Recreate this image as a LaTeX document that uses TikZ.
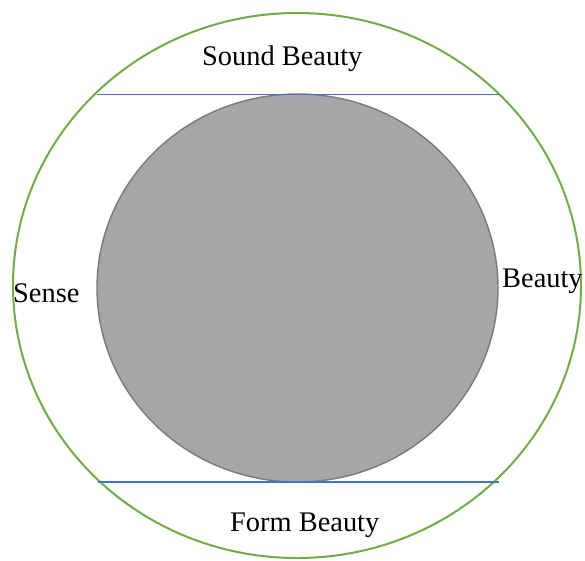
\documentclass[tikz,border=0pt]{standalone}
\usepackage{fontspec}
\setmainfont{Liberation Serif}
\definecolor{outergreen}{HTML}{70AD47}
\definecolor{lineblue}{HTML}{4472C4}
\definecolor{fillgray}{HTML}{A6A6A6}
\definecolor{edgegray}{HTML}{7A7A7A}
\begin{document}
\begin{tikzpicture}[x=1pt,y=-1pt,
  lbl/.style={inner sep=0pt, anchor=base west, font=\fontsize{28.4}{30}\selectfont},
  sepline/.style={draw=lineblue, line width=1.3pt}]
\useasboundingbox (0,0) rectangle (585,560);
\fill[white] (0,0) rectangle (585,560);
% outer ellipse
\draw[outergreen, line width=2pt] (297,285.5) ellipse [x radius=284, y radius=272.5];
% inner gray circle
\draw[draw=edgegray, fill=fillgray, line width=1.4pt] (297.5,288) ellipse [x radius=200.5, y radius=194];
% separator lines
\coordinate (t1) at (97,94.3);
\coordinate (t2) at (500,94.3);
\coordinate (b1) at (98,482);
\coordinate (b2) at (499,482);
\draw[sepline] (t1) -- (t2);
\draw[sepline] (b1) -- (b2);
% labels
\node[lbl] (sound) at (202,65) {Sound Beauty};
\node[lbl] (form) at (230,531) {Form Beauty};
\node[lbl] (sense) at (13,302) {Sense};
\node[lbl] (beauty) at (502,287) {Beauty};
\end{tikzpicture}
\end{document}
